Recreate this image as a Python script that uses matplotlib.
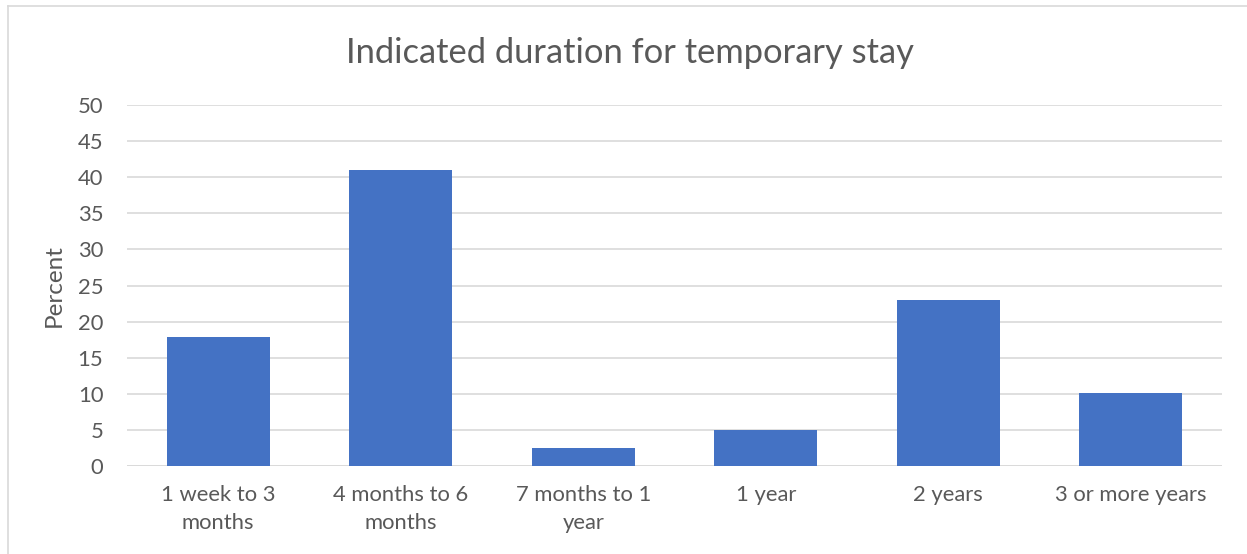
import matplotlib.pyplot as plt
from matplotlib.lines import Line2D

categories = ['1 week to 3\nmonths', '4 months to 6\nmonths', '7 months to 1\nyear',
              '1 year', '2 years', '3 or more years']
percent = [17.8, 41.0, 2.45, 5.0, 23.0, 10.15]
yticks = list(range(0, 55, 5))

plt.rcParams['font.family'] = ['Lato', 'DejaVu Sans']
text_col = '#595959'

fig = plt.figure(figsize=(12.47, 5.54), dpi=100)
ax = fig.add_axes([0.1018, 0.1588, 0.8782, 0.6517])

x = range(len(categories))
ax.bar(x, percent, width=0.565, color='#4472C4', zorder=3)

ax.set_xlim(-0.5, len(categories) - 0.5)
ax.set_ylim(0, 50)
ax.set_yticks(yticks)
ax.set_xticks(list(x))
ax.set_xticklabels(categories, fontsize=15.8, color=text_col, linespacing=1.45)
ax.tick_params(axis='y', labelsize=15.8, labelcolor=text_col, length=0, pad=17)
ax.tick_params(axis='x', length=0, pad=14)
ax.grid(axis='y', color='#d9d9d9', linewidth=1.2, zorder=0)
for s in ax.spines.values():
    s.set_visible(False)
ax.axhline(0, color='#d9d9d9', linewidth=1.2, zorder=2)

ax.set_ylabel('Percent', fontsize=17.5, color=text_col, labelpad=9)
fig.text(0.505, 0.905, 'Indicated duration for temporary stay', ha='center', va='center',
         fontsize=24.8, color=text_col)

# chart frame
fig.add_artist(Line2D([8 / 1247, 8 / 1247], [0, 1 - 6 / 554], color='#d9d9d9', lw=1.2,
                      transform=fig.transFigure))
fig.add_artist(Line2D([8 / 1247, 1], [1 - 6 / 554, 1 - 6 / 554], color='#d9d9d9', lw=1.2,
                      transform=fig.transFigure))

fig.savefig('out.png', dpi=100)
